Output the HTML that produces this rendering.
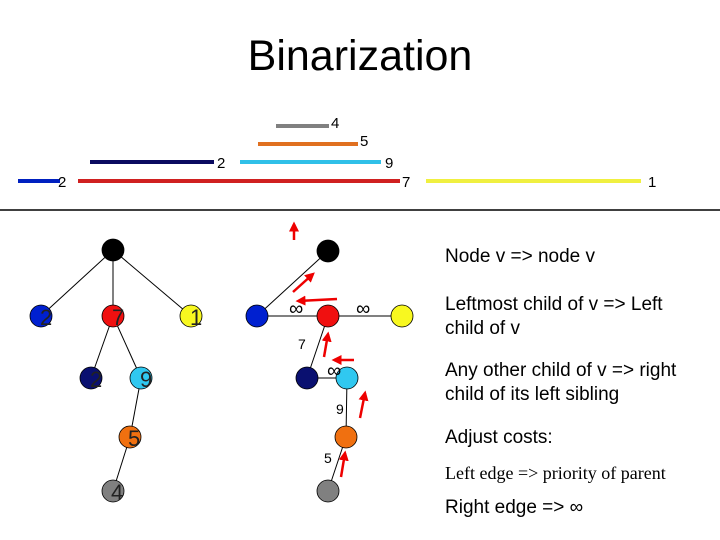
<!DOCTYPE html>
<html><head><style>
body{margin:0;width:720px;height:540px;background:#fff;overflow:hidden;font-family:"Liberation Sans",sans-serif}
.t{position:absolute;font-size:19px;color:#000}
</style></head><body>
<div style="position:absolute;left:0;top:32px;width:720px;text-align:center;font-size:43px">Binarization</div>
<svg width="720" height="540" style="position:absolute;left:0;top:0" font-family="Liberation Sans,sans-serif">
<defs><marker id="a" markerWidth="4" markerHeight="4" refX="3" refY="2" orient="auto"><path d="M0,0L4,2L0,4z" fill="#e00"/></marker></defs>
<g stroke-width="4">
<line x1="276" y1="126" x2="329" y2="126" stroke="#808080"/>
<line x1="258" y1="144" x2="358" y2="144" stroke="#e07020"/>
<line x1="90" y1="162" x2="214" y2="162" stroke="#0a0a60"/>
<line x1="240" y1="162" x2="381" y2="162" stroke="#30c0e8"/>
<line x1="18" y1="181" x2="60" y2="181" stroke="#0020c0"/>
<line x1="78" y1="181" x2="400" y2="181" stroke="#d02020"/>
<line x1="426" y1="181" x2="641" y2="181" stroke="#f0f040"/>
</g>
<g font-size="15" fill="#000">
<text x="331" y="128">4</text><text x="360" y="146">5</text><text x="217" y="168">2</text><text x="385" y="168">9</text>
<text x="58" y="187">2</text><text x="402" y="187">7</text><text x="648" y="187">1</text>
</g>
<line x1="0" y1="210" x2="720" y2="210" stroke="#000" stroke-width="1.5"/>
<g stroke="#000" stroke-width="1">
<line x1="113" y1="250" x2="41" y2="316"/><line x1="113" y1="250" x2="113" y2="316"/><line x1="113" y1="250" x2="191" y2="316"/>
<line x1="113" y1="316" x2="91" y2="378"/><line x1="113" y1="316" x2="141" y2="378"/>
<line x1="141" y1="378" x2="130" y2="437"/><line x1="130" y1="437" x2="113" y2="491"/>
<line x1="328" y1="251" x2="257" y2="316"/><line x1="257" y1="316" x2="402" y2="316"/>
<line x1="328" y1="316" x2="307" y2="378"/><line x1="307" y1="378" x2="347" y2="378"/>
<line x1="347" y1="378" x2="346" y2="437"/><line x1="346" y1="437" x2="328" y2="491"/>
</g>
<g stroke="#000" stroke-width="0.8">
<circle cx="113" cy="250" r="11" fill="#000"/><circle cx="41" cy="316" r="11" fill="#0020d0"/><circle cx="113" cy="316" r="11" fill="#f01010"/><circle cx="191" cy="316" r="11" fill="#f8f820"/>
<circle cx="91" cy="378" r="11" fill="#0a1070"/><circle cx="141" cy="378" r="11" fill="#30c8f0"/><circle cx="130" cy="437" r="11" fill="#f07010"/><circle cx="113" cy="491" r="11" fill="#808080"/>
<circle cx="328" cy="251" r="11" fill="#000"/><circle cx="257" cy="316" r="11" fill="#0020d0"/><circle cx="328" cy="316" r="11" fill="#f01010"/><circle cx="402" cy="316" r="11" fill="#f8f820"/>
<circle cx="307" cy="378" r="11" fill="#0a1070"/><circle cx="347" cy="378" r="11" fill="#30c8f0"/><circle cx="346" cy="437" r="11" fill="#f07010"/><circle cx="328" cy="491" r="11" fill="#808080"/>
</g>
<g font-size="22" fill="#222">
<text x="40" y="325">2</text><text x="112" y="325">7</text><text x="190" y="325">1</text>
<text x="90" y="387">2</text><text x="140" y="387">9</text><text x="128" y="446">5</text><text x="111" y="500">4</text>
</g>
<g font-size="20" fill="#000"><text x="289" y="315">∞</text><text x="356" y="315">∞</text><text x="327" y="377">∞</text></g>
<g font-size="14" fill="#000"><text x="298" y="349">7</text><text x="336" y="414">9</text><text x="324" y="463">5</text></g>
<g stroke="#e00" stroke-width="2.5" marker-end="url(#a)">
<line x1="294" y1="240" x2="294" y2="224"/>
<line x1="293" y1="292" x2="313" y2="274"/>
<line x1="337" y1="299" x2="298" y2="301"/>
<line x1="324" y1="357" x2="328" y2="334"/>
<line x1="354" y1="360" x2="334" y2="360"/>
<line x1="360" y1="418" x2="365" y2="393"/>
<line x1="341" y1="477" x2="345" y2="453"/>
</g>
</svg>
<div class="t" style="left:445px;top:246px">Node v =&gt; node v</div>
<div class="t" style="left:445px;top:293px;line-height:24px">Leftmost child of v =&gt; Left<br>child of v</div>
<div class="t" style="left:445px;top:359px;line-height:24px">Any other child of v =&gt; right<br>child of its left sibling</div>
<div class="t" style="left:445px;top:427px">Adjust costs:</div>
<div class="t" style="left:445px;top:463px;font-family:'Liberation Serif',serif;font-size:18px">Left edge =&gt; priority of parent</div>
<div class="t" style="left:445px;top:497px">Right edge =&gt; ∞</div>
</body></html>
